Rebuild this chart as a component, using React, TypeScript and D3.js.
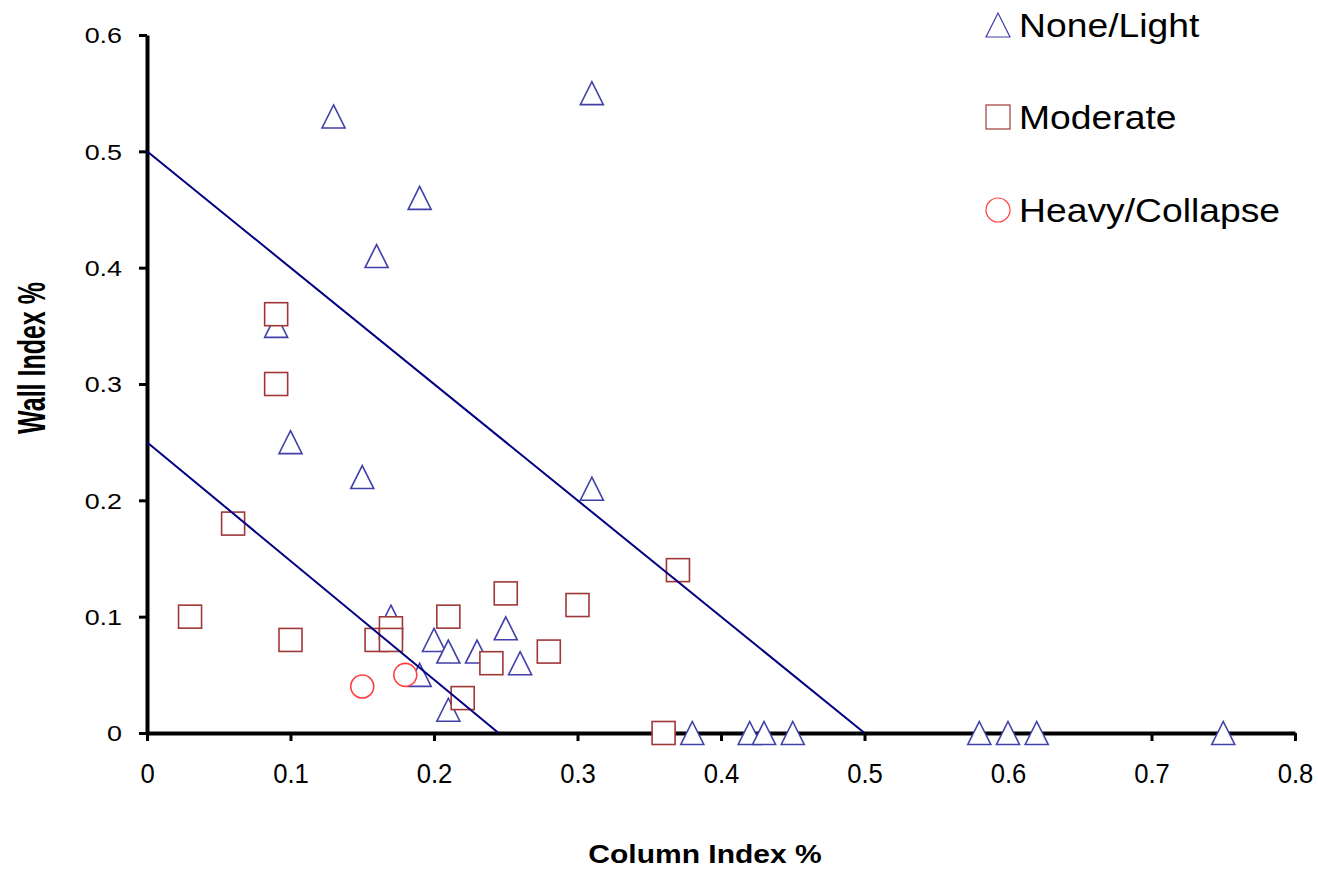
import * as d3 from "d3";
import React, { useEffect, useRef } from "react";

// damage category points: [column index %, wall index %]
const noneLight = [
  [0.13, 0.53], [0.31, 0.55], [0.19, 0.46], [0.16, 0.41], [0.09, 0.35],
  [0.10, 0.25], [0.15, 0.22], [0.31, 0.21], [0.17, 0.10], [0.20, 0.08],
  [0.21, 0.07], [0.23, 0.07], [0.25, 0.09], [0.26, 0.06], [0.19, 0.05],
  [0.21, 0.02], [0.38, 0], [0.42, 0], [0.43, 0], [0.45, 0],
  [0.58, 0], [0.60, 0], [0.62, 0], [0.75, 0],
];
const moderate = [
  [0.09, 0.36], [0.09, 0.30], [0.06, 0.18], [0.03, 0.10], [0.10, 0.08],
  [0.16, 0.08], [0.17, 0.09], [0.17, 0.08], [0.21, 0.10], [0.25, 0.12],
  [0.24, 0.06], [0.28, 0.07], [0.30, 0.11], [0.22, 0.03], [0.37, 0.14],
  [0.36, 0],
];
const heavyCollapse = [[0.15, 0.04], [0.18, 0.05]];

const upperLine = [[0, 0.5], [0.5, 0]];
const lowerLine = [[0, 0.25], [0.245, 0]];

const xTicks = [0, 0.1, 0.2, 0.3, 0.4, 0.5, 0.6, 0.7, 0.8];
const yTicks = [0, 0.1, 0.2, 0.3, 0.4, 0.5, 0.6];
const legendLabels = ["None/Light", "Moderate", "Heavy/Collapse"];

const FONT = "Arial, 'Liberation Sans', sans-serif";
const TRI_COLOR = "#4040a8";
const SQ_COLOR = "#a03838";
const CIRC_COLOR = "#ff4040";

function triPath(s) {
  const h = s / 2;
  return `M0,${-h}L${h},${h}L${-h},${h}Z`;
}

export default function App() {
  const ref = useRef(null);

  useEffect(() => {
    const root = d3.select(ref.current);
    root.selectAll("*").remove();

    const width = 1318;
    const height = 870;

    const svg = root.append("svg")
      .attr("width", width)
      .attr("height", height)
      .style("display", "block")
      .style("position", "absolute")
      .style("left", "0px")
      .style("top", "0px")
      .style("background", "#fff");

    const x = d3.scaleLinear().domain([0, 0.8]).range([147, 1295]);
    const y = d3.scaleLinear().domain([0, 0.6]).range([733, 35]);

    // axes
    const gx = svg.append("g")
      .attr("transform", `translate(0,${y(0)})`)
      .call(d3.axisBottom(x).tickValues(xTicks).tickSize(8).tickSizeOuter(0).tickFormat(d => String(d)));
    gx.select(".domain").attr("stroke", "#000").attr("stroke-width", 4);
    gx.selectAll(".tick line").attr("stroke", "#000").attr("stroke-width", 3);
    gx.selectAll(".tick text")
      .attr("y", 0)
      .attr("dy", 0)
      .attr("transform", "translate(0,49.5) scale(0.95,1.04)")
      .attr("fill", "#000")
      .style("font-family", FONT)
      .style("font-size", "27px");

    const gy = svg.append("g")
      .attr("transform", `translate(${x(0)},0)`)
      .call(d3.axisLeft(y).tickValues(yTicks).tickSize(8).tickSizeOuter(0).tickFormat(d => String(d)));
    gy.select(".domain").attr("stroke", "#000").attr("stroke-width", 4);
    gy.selectAll(".tick line").attr("stroke", "#000").attr("stroke-width", 3);
    gy.selectAll(".tick text")
      .attr("x", 0)
      .attr("dy", "0.36em")
      .attr("transform", "translate(-25,0) scale(1.25,1)")
      .attr("fill", "#000")
      .style("font-family", FONT)
      .style("font-size", "21.5px");

    // axis titles
    svg.append("text")
      .attr("transform", "translate(705,863) scale(1.2,1)")
      .attr("text-anchor", "middle")
      .style("font-family", FONT)
      .style("font-size", "25px")
      .style("font-weight", "bold")
      .text("Column Index %");

    svg.append("text")
      .attr("transform", "translate(45,358) rotate(-90) scale(1,1.55)")
      .attr("text-anchor", "middle")
      .style("font-family", FONT)
      .style("font-size", "25px")
      .style("font-weight", "bold")
      .text("Wall Index %");

    // markers
    svg.append("g").selectAll("path")
      .data(noneLight)
      .join("path")
      .attr("d", triPath(23))
      .attr("transform", d => `translate(${x(d[0])},${y(d[1])})`)
      .attr("fill", "#fff")
      .attr("stroke", TRI_COLOR)
      .attr("stroke-width", 1.6);

    svg.append("g").selectAll("rect")
      .data(moderate)
      .join("rect")
      .attr("x", d => x(d[0]) - 11.5)
      .attr("y", d => y(d[1]) - 11.5)
      .attr("width", 23)
      .attr("height", 23)
      .attr("fill", "#fff")
      .attr("stroke", SQ_COLOR)
      .attr("stroke-width", 1.6);

    svg.append("g").selectAll("circle")
      .data(heavyCollapse)
      .join("circle")
      .attr("cx", d => x(d[0]))
      .attr("cy", d => y(d[1]))
      .attr("r", 11.5)
      .attr("fill", "#fff")
      .attr("stroke", CIRC_COLOR)
      .attr("stroke-width", 1.6);

    // boundary lines
    const line = d3.line().x(d => x(d[0])).y(d => y(d[1]));
    [upperLine, lowerLine].forEach(l => {
      svg.append("path")
        .datum(l)
        .attr("d", line)
        .attr("fill", "none")
        .attr("stroke", "#000080")
        .attr("stroke-width", 2);
    });

    // legend
    const legendY = [25, 117, 210];
    const lg = svg.append("g");
    legendLabels.forEach((label, i) => {
      const cy = legendY[i];
      if (i === 0) {
        lg.append("path").attr("d", triPath(24)).attr("transform", `translate(998,${cy})`)
          .attr("fill", "#fff").attr("stroke", TRI_COLOR).attr("stroke-width", 1.2);
      } else if (i === 1) {
        lg.append("rect").attr("x", 986).attr("y", cy - 12).attr("width", 24).attr("height", 24)
          .attr("fill", "#fff").attr("stroke", SQ_COLOR).attr("stroke-width", 1.2);
      } else {
        lg.append("circle").attr("cx", 998).attr("cy", cy).attr("r", 12)
          .attr("fill", "#fff").attr("stroke", CIRC_COLOR).attr("stroke-width", 1.2);
      }
      lg.append("text")
        .attr("transform", `translate(1019,${cy + 11.5}) scale(1.13,1)`)
        .style("font-family", FONT)
        .style("font-size", "33px")
        .text(label);
    });
  }, []);

  return <div ref={ref}></div>;
}
